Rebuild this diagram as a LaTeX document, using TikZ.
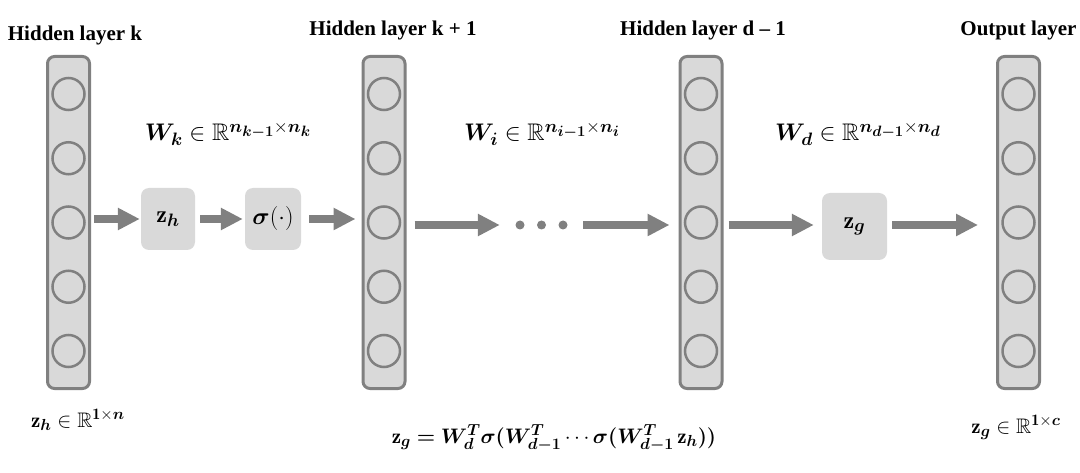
\RequirePackage{fix-cm}
\documentclass[tikz,border=0pt]{standalone}
\usepackage{amsmath,amssymb,bm}
\usepackage{fontspec}
\newfontfamily\titlefont{Liberation Serif}
\usetikzlibrary{arrows.meta}
\definecolor{lfill}{HTML}{D9D9D9}
\definecolor{lgray}{HTML}{808080}
\DeclareMathSizes{24}{24}{18}{15}
\DeclareMathSizes{21}{21}{16}{13}
\newcommand{\Wt}[1]{\bm{W}^{\bm{T}}_{\bm{#1}}}
\begin{document}
\begin{tikzpicture}[x=1pt,y=-1pt,
  layer/.style={draw=lgray, line width=3pt, fill=lfill, rounded corners=7pt,
    minimum width=42pt, minimum height=332pt, inner sep=0pt},
  neuron/.style={circle, draw=lgray, line width=2.5pt, minimum size=32pt, inner sep=0pt},
  opbox/.style={fill=lfill, rounded corners=8pt, inner sep=0pt,
    font=\fontsize{24}{28}\selectfont},
  bigarrow/.style={draw=lgray, line width=8pt, -{Triangle[length=22pt,width=21pt]}},
  dotnode/.style={circle, fill=lgray, minimum size=9pt, inner sep=0pt},
  lab/.style={font=\titlefont\fontsize{21}{24}\selectfont\bfseries, inner sep=0pt, anchor=base},
  mth/.style={font=\fontsize{24}{28}\selectfont, inner sep=0pt, anchor=base},
  mths/.style={font=\fontsize{21}{25}\selectfont, inner sep=0pt, anchor=base}
]
\useasboundingbox (0,0) rectangle (1080,473);

% layers
\foreach \nm/\xx in {lk/68.5, lk1/384, ld/701, lo/1018.5} {
  \node[layer] (\nm) at (\xx,222.5) {};
  \foreach \j in {0,...,4}
    \node[neuron] (\nm-\j) at (\xx,{94+64.25*\j}) {};
}

% operation boxes
\node[opbox, minimum width=54pt, minimum height=62pt] (zh) at (168,219) {$\mathbf{z}_{\bm{h}}$};
\node[opbox, minimum width=56pt, minimum height=62pt] (sg) at (273,219) {$\bm{\sigma}(\cdot)$};
\node[opbox, minimum width=65pt, minimum height=67pt] (zg) at (854.5,226.5) {$\mathbf{z}_{\bm{g}}$};

% dots
\coordinate (ay) at (0,225);
\node[dotnode] (d1) at (520,225) {};
\node[dotnode] (d2) at (541.5,225) {};
\node[dotnode] (d3) at (563,225) {};

% arrows
\draw[bigarrow] ([xshift=3pt]lk.east |- zh.center) -- ([xshift=-1pt]zh.west);
\draw[bigarrow] ([xshift=5pt]zh.east) -- ([xshift=-2pt]sg.west);
\draw[bigarrow] ([xshift=8pt]sg.east) -- ([xshift=-6pt]lk1.west |- sg.center);
\draw[bigarrow] ([xshift=8pt]lk1.east |- ay) -- ([xshift=-15.5pt]d1.west);
\draw[bigarrow] ([xshift=15.5pt]d3.east) -- ([xshift=-9pt]ld.west |- ay);
\draw[bigarrow] ([xshift=5pt]ld.east |- ay) -- ([xshift=-8pt]zg.west |- ay);
\draw[bigarrow] ([xshift=5pt]zg.east |- ay) -- ([xshift=-18pt]lo.west |- ay);

% layer titles
\node[lab] (tk) at (75,41) {Hidden layer k};
\node[lab] (tk1) at (393,36) {Hidden layer k + 1};
\node[lab] (td) at (703,36) {Hidden layer d \textendash{} 1};
\node[lab] (tout) at (1018.5,36) {Output layer};

% weight labels
\node[mth] (wk) at (228,141) {$\bm{W}_{\bm{k}} \in \mathbb{R}^{\bm{n}_{\bm{k-1}}\times \bm{n}_{\bm{k}}}$};
\node[mth] (wi) at (542,141) {$\bm{W}_{\bm{i}} \in \mathbb{R}^{\bm{n}_{\bm{i-1}}\times \bm{n}_{\bm{i}}}$};
\node[mth] (wd) at (858,141) {$\bm{W}_{\bm{d}} \in \mathbb{R}^{\bm{n}_{\bm{d-1}}\times \bm{n}_{\bm{d}}}$};

% bottom labels
\node[mths] (bzh) at (78,427) {$\mathbf{z}_{\bm{h}} \in \mathbb{R}^{\mathbf{1}\times \bm{n}}$};
\node[mths] (formula) at (554,443) {$\mathbf{z}_{\bm{g}} \bm{=} \Wt{d}\bm{\sigma}\bm{(}\Wt{d-1}\,{\cdots}\,\bm{\sigma}\bm{(}\Wt{d-1}\,\mathbf{z}_{\bm{h}}\bm{)}\bm{)}$};
\node[mths] (bzg) at (1016,433) {$\mathbf{z}_{\bm{g}} \in \mathbb{R}^{\mathbf{1}\times \bm{c}}$};
\end{tikzpicture}
\end{document}
